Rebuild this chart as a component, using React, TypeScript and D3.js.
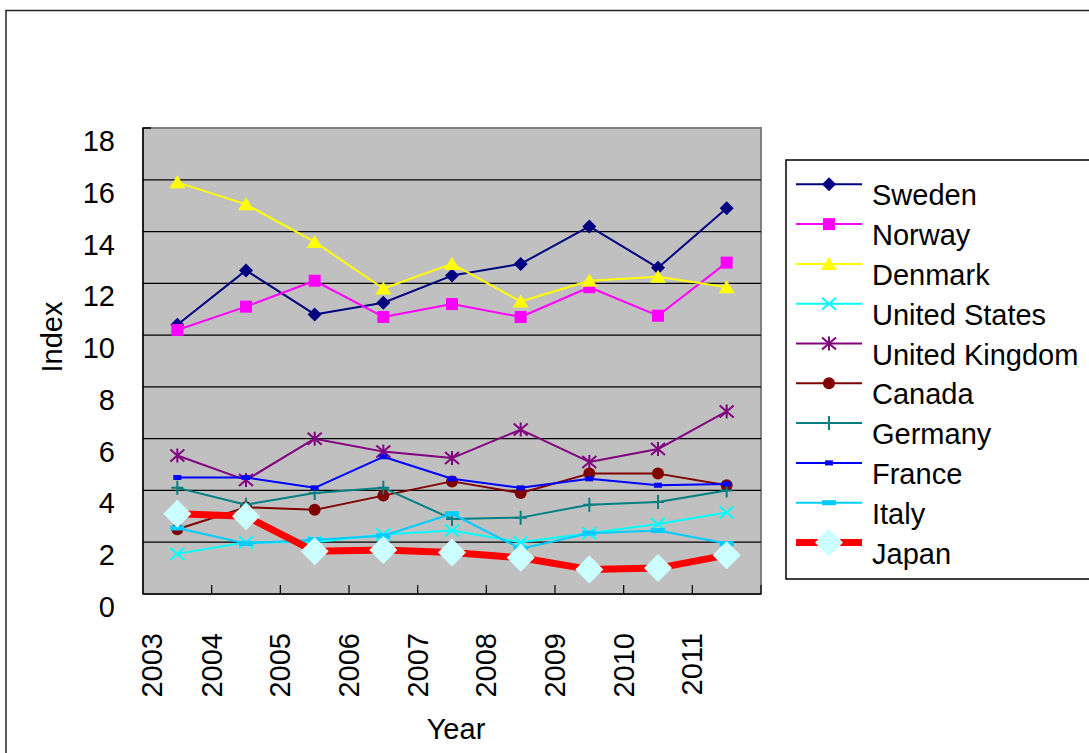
import React from "react";
import * as d3 from "d3";

const years = ["2003", "2004", "2005", "2006", "2007", "2008", "2009", "2010", "2011"];
const yTicks = [0, 2, 4, 6, 8, 10, 12, 14, 16, 18];

const sweden = [10.4, 12.5, 10.8, 11.25, 12.3, 12.75, 14.2, 12.6, 14.9];
const norway = [10.2, 11.1, 12.1, 10.7, 11.2, 10.7, 11.85, 10.75, 12.8];
const denmark = [15.9, 15.05, 13.6, 11.8, 12.75, 11.3, 12.1, 12.25, 11.85];
const unitedStates = [1.55, 2.0, 2.0, 2.3, 2.45, 2.0, 2.35, 2.7, 3.15];
const unitedKingdom = [5.35, 4.4, 6.0, 5.5, 5.25, 6.35, 5.1, 5.6, 7.05];
const canada = [2.5, 3.35, 3.25, 3.8, 4.35, 3.9, 4.65, 4.65, 4.2];
const germany = [4.1, 3.45, 3.9, 4.1, 2.9, 2.95, 3.45, 3.55, 4.0];
const france = [4.5, 4.5, 4.1, 5.3, 4.45, 4.1, 4.45, 4.2, 4.25];
const italy = [2.55, 1.95, 2.1, 2.25, 3.1, 1.75, 2.35, 2.45, 1.95];
const japan = [3.1, 3.0, 1.65, 1.7, 1.6, 1.4, 0.95, 1.0, 1.5];

type Marker = "diamond" | "square" | "triangle" | "x" | "asterisk" | "circle" | "plus" | "dashS" | "dashL" | "bigDiamond";

const series: { name: string; values: number[]; color: string; width: number; marker: Marker; markerColor: string }[] = [
  { name: "Sweden", values: sweden, color: "#000080", width: 2, marker: "diamond", markerColor: "#000080" },
  { name: "Norway", values: norway, color: "#FF00FF", width: 2, marker: "square", markerColor: "#FF00FF" },
  { name: "Denmark", values: denmark, color: "#FFFF00", width: 2, marker: "triangle", markerColor: "#FFFF00" },
  { name: "United States", values: unitedStates, color: "#00FFFF", width: 2, marker: "x", markerColor: "#00FFFF" },
  { name: "United Kingdom", values: unitedKingdom, color: "#800080", width: 2, marker: "asterisk", markerColor: "#800080" },
  { name: "Canada", values: canada, color: "#800000", width: 2, marker: "circle", markerColor: "#800000" },
  { name: "Germany", values: germany, color: "#008080", width: 2, marker: "plus", markerColor: "#008080" },
  { name: "France", values: france, color: "#0000FF", width: 2, marker: "dashS", markerColor: "#0000FF" },
  { name: "Italy", values: italy, color: "#00CCFF", width: 2, marker: "dashL", markerColor: "#00CCFF" },
  { name: "Japan", values: japan, color: "#FF0000", width: 7, marker: "bigDiamond", markerColor: "#CCFFFF" },
];

const FONT = "'Liberation Sans', Arial, sans-serif";
const FS = 29;
const L = 143, R = 761, T = 128, B = 594;

function MarkerShape({ type, color, cx, cy }: { type: Marker; color: string; cx: number; cy: number }) {
  const t = `translate(${cx},${cy})`;
  switch (type) {
    case "diamond":
      return <path transform={t} d="M0,-7L7,0L0,7L-7,0Z" fill={color} />;
    case "bigDiamond":
      return <path transform={t} d="M0,-14L14,0L0,14L-14,0Z" fill={color} />;
    case "square":
      return <rect transform={t} x={-6} y={-6} width={12} height={12} fill={color} />;
    case "triangle":
      return <path transform={t} d="M0,-7L8,6L-8,6Z" fill={color} />;
    case "circle":
      return <circle cx={cx} cy={cy} r={6} fill={color} />;
    case "x":
      return <path transform={t} d="M-7,-6L7,6M-7,6L7,-6" stroke={color} strokeWidth={2} fill="none" />;
    case "asterisk":
      return <path transform={t} d="M-7,-6L7,6M-7,6L7,-6M0,-7L0,7" stroke={color} strokeWidth={2} fill="none" />;
    case "plus":
      return <path transform={t} d="M-6,0L6,0M0,-7L0,7" stroke={color} strokeWidth={2} fill="none" />;
    case "dashS":
      return <rect transform={t} x={-4} y={-2.5} width={8} height={5} fill={color} />;
    case "dashL":
      return <rect transform={t} x={-7} y={-2.5} width={14} height={5} fill={color} />;
  }
  return null;
}

export default function App() {
  const x = d3.scaleBand<string>().domain(years).range([L, R]).padding(0);
  const bw = x.bandwidth();
  const cx = (i: number) => (x(years[i]) as number) + bw / 2;
  const y = d3.scaleLinear().domain([0, 18]).range([B, T]);
  const line = d3
    .line<number>()
    .x((_, i) => cx(i))
    .y((v) => y(v));

  const legX = 786, legY = 160;
  const rowY = (i: number) => 184.3 + i * 39.8;

  return (
    <svg width={1089} height={753} style={{ position: "absolute", left: 0, top: 0, background: "#fff" }} fontFamily={FONT}>
      <rect x={6} y={10.5} width={1200} height={800} fill="#fff" stroke="#222" strokeWidth={1.5} />
      {/* plot area */}
      <rect x={L} y={T} width={R - L} height={B - T} fill="#C0C0C0" stroke="#808080" strokeWidth={2} />
      {yTicks.filter((v) => v > 0 && v < 18).map((v) => (
        <line key={v} x1={L} x2={R} y1={y(v)} y2={y(v)} stroke="#000" strokeWidth={1.2} />
      ))}
      <line x1={L} x2={L + 8} y1={T} y2={T} stroke="#000" strokeWidth={1.5} />
      <line x1={L} x2={L} y1={T} y2={B} stroke="#000" strokeWidth={1.5} />
      <line x1={L} x2={R} y1={B} y2={B} stroke="#000" strokeWidth={1.5} />
      {years.slice(1).map((yr) => (
        <line key={yr} x1={x(yr)} x2={x(yr)} y1={B - 9} y2={B} stroke="#000" strokeWidth={1.2} />
      ))}
      <line x1={R} x2={R} y1={B - 9} y2={B} stroke="#000" strokeWidth={1.2} />

      {/* series */}
      {series.map((s) => (
        <g key={s.name}>
          <path d={line(s.values) || ""} fill="none" stroke={s.color} strokeWidth={s.width} strokeLinejoin="round" />
          {s.values.map((v, i) => (
            <MarkerShape key={i} type={s.marker} color={s.markerColor} cx={cx(i)} cy={y(v)} />
          ))}
        </g>
      ))}

      {/* y ticks */}
      {yTicks.map((v) => (
        <text key={v} x={115} y={y(v) + 23} textAnchor="end" fontSize={FS} fill="#000">
          {v}
        </text>
      ))}
      {/* x labels */}
      {years.map((yr) => (
        <text
          key={yr}
          transform={`translate(${Math.max(x(yr) as number, 152)},633) rotate(-90)`}
          textAnchor="end"
          dominantBaseline="central"
          fontSize={FS}
          fill="#000"
        >
          {yr}
        </text>
      ))}
      <text x={456} y={739} textAnchor="middle" fontSize={FS} fill="#000">
        Year
      </text>
      <text transform="translate(52,337) rotate(-90)" textAnchor="middle" dominantBaseline="central" fontSize={FS} fill="#000">
        Index
      </text>

      {/* legend */}
      <rect x={legX} y={legY} width={400} height={419} fill="#fff" stroke="#000" strokeWidth={1.5} />
      {series.map((s, i) => (
        <g key={s.name}>
          <line x1={796} x2={862} y1={rowY(i)} y2={rowY(i)} stroke={s.color} strokeWidth={s.width} />
          <MarkerShape type={s.marker} color={s.markerColor} cx={829} cy={rowY(i)} />
          <text x={872} y={rowY(i) + 21} fontSize={FS} fill="#000">
            {s.name}
          </text>
        </g>
      ))}
    </svg>
  );
}
